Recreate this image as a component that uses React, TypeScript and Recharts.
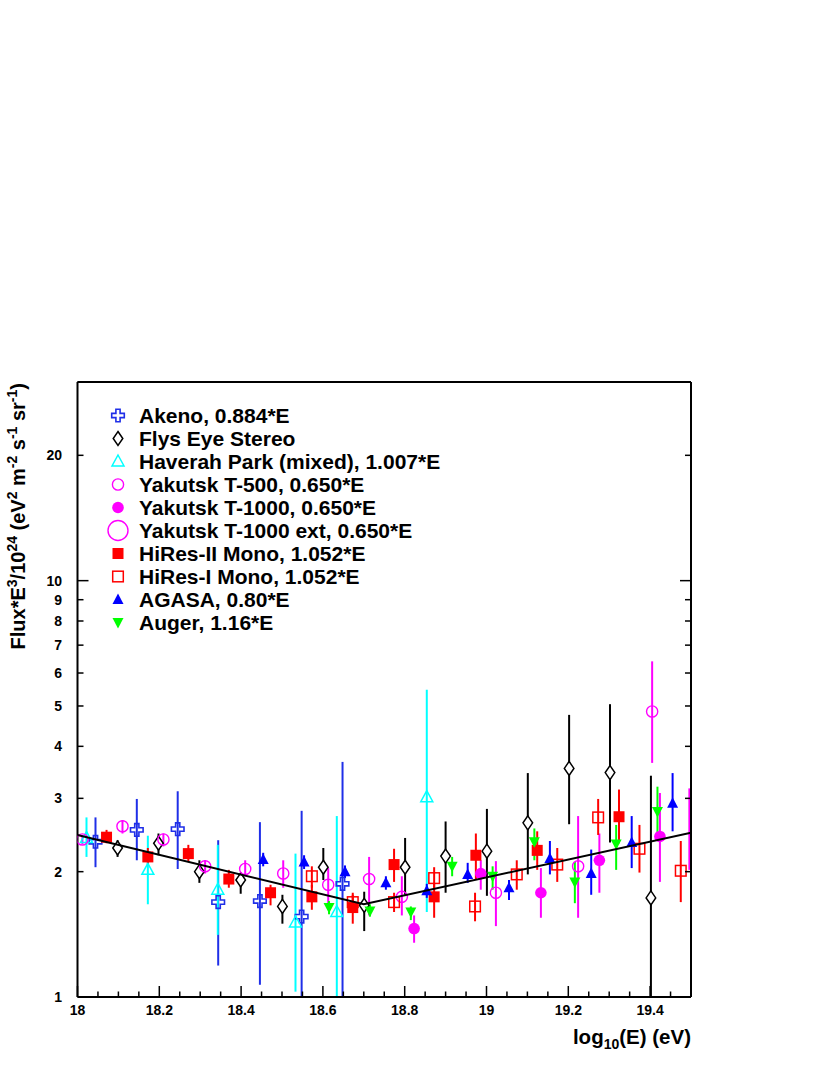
import { ComposedChart, Scatter, ErrorBar, XAxis, YAxis, Label } from 'recharts';

// [log10(E), flux, lower end of error bar, upper end of error bar]
type Pt = [number, number, number, number];

const akeno: Pt[] = [
    [18.044, 2.36, 2.05, 2.70],
    [18.145, 2.52, 2.13, 2.99],
    [18.245, 2.53, 2.03, 3.12],
    [18.344, 1.69, 1.19, 2.38],
    [18.446, 1.70, 1.07, 2.63],
    [18.548, 1.56, 1.0, 2.80],
    [18.648, 1.87, 1.0, 3.67],
];

const flysEye: Pt[] = [
    [18.098, 2.28, 2.17, 2.38],
    [18.198, 2.34, 2.19, 2.47],
    [18.298, 2.00, 1.88, 2.13],
    [18.399, 1.91, 1.77, 1.99],
    [18.501, 1.65, 1.50, 1.76],
    [18.601, 2.05, 1.91, 2.28],
    [18.701, 1.66, 1.44, 1.79],
    [18.801, 2.05, 1.76, 2.41],
    [18.900, 2.18, 1.78, 2.64],
    [19.001, 2.24, 1.75, 2.83],
    [19.101, 2.62, 1.97, 3.45],
    [19.202, 3.54, 2.60, 4.76],
    [19.302, 3.46, 2.35, 5.05],
    [19.402, 1.73, 1.0, 3.40],
];

const haverah: Pt[] = [
    [18.022, 2.41, 2.17, 2.70],
    [18.172, 2.02, 1.67, 2.44],
    [18.343, 1.81, 1.41, 2.32],
    [18.533, 1.51, 1.03, 2.21],
    [18.634, 1.60, 1.0, 2.72],
    [18.854, 3.02, 1.60, 5.47],
];

const yakutsk500: Pt[] = [
    [18.012, 2.39, 2.33, 2.45],
    [18.110, 2.57, 2.47, 2.66],
    [18.210, 2.39, 2.30, 2.47],
    [18.312, 2.06, 1.98, 2.13],
    [18.410, 2.03, 1.95, 2.13],
    [18.503, 1.98, 1.83, 2.13],
    [18.613, 1.86, 1.68, 2.04],
    [18.713, 1.92, 1.57, 2.17],
    [18.793, 1.74, 1.57, 1.95],
    [19.023, 1.78, 1.48, 2.12],
    [19.224, 2.06, 1.55, 2.72],
    [19.405, 4.85, 3.65, 6.40],
];

const yakutsk1000: Pt[] = [
    [18.823, 1.46, 1.35, 1.57],
    [18.986, 1.98, 1.81, 2.13],
    [19.133, 1.78, 1.55, 2.04],
    [19.276, 2.13, 1.78, 2.47],
    [19.424, 2.43, 1.89, 3.09],
];

// only its error bar shows at the right edge, the marker is not drawn in the picture
const yakutskExt: Pt[] = [
    [19.496, 2.53, 2.02, 3.17],
];

const hires2: Pt[] = [
    [18.071, 2.42, 2.34, 2.52],
    [18.172, 2.17, 2.08, 2.28],
    [18.271, 2.21, 2.11, 2.32],
    [18.370, 1.92, 1.83, 2.02],
    [18.472, 1.78, 1.66, 1.86],
    [18.573, 1.74, 1.62, 1.86],
    [18.673, 1.64, 1.50, 1.76],
    [18.774, 2.08, 1.89, 2.27],
    [18.872, 1.74, 1.55, 1.88],
    [18.974, 2.19, 1.91, 2.47],
    [19.124, 2.25, 2.02, 2.50],
    [19.324, 2.71, 2.34, 3.15],
];

const hires1: Pt[] = [
    [18.573, 1.95, 1.83, 2.06],
    [18.673, 1.69, 1.60, 1.78],
    [18.774, 1.69, 1.60, 1.78],
    [18.872, 1.93, 1.81, 2.05],
    [18.972, 1.65, 1.52, 1.78],
    [19.074, 1.97, 1.81, 2.13],
    [19.173, 2.08, 1.89, 2.28],
    [19.273, 2.70, 2.45, 2.99],
    [19.374, 2.27, 1.99, 2.59],
    [19.475, 2.01, 1.69, 2.37],
];

const agasa: Pt[] = [
    [18.454, 2.14, 2.06, 2.22],
    [18.554, 2.11, 2.03, 2.19],
    [18.654, 2.00, 1.93, 2.07],
    [18.754, 1.88, 1.81, 1.95],
    [18.854, 1.80, 1.73, 1.87],
    [18.954, 1.97, 1.88, 2.10],
    [19.055, 1.83, 1.71, 1.91],
    [19.155, 2.15, 1.97, 2.37],
    [19.256, 1.98, 1.76, 2.26],
    [19.355, 2.35, 2.04, 2.72],
    [19.455, 2.92, 2.50, 3.45],
];

const auger: Pt[] = [
    [18.615, 1.64, 1.58, 1.70],
    [18.715, 1.61, 1.56, 1.67],
    [18.815, 1.60, 1.53, 1.65],
    [18.916, 2.06, 1.95, 2.17],
    [19.015, 1.95, 1.81, 2.06],
    [19.117, 2.36, 2.13, 2.54],
    [19.216, 1.89, 1.68, 2.11],
    [19.317, 2.33, 2.02, 2.59],
    [19.418, 2.79, 2.45, 3.20],
];

const fitLine: [number, number][] = [[18, 2.45], [18.7, 1.67], [19.5, 2.48]];

const xTicks = [
    18, 18.05, 18.1, 18.15, 18.2, 18.25, 18.3, 18.35, 18.4, 18.45, 18.5, 18.55, 18.6, 18.65, 18.7, 18.75,
    18.8, 18.85, 18.9, 18.95, 19, 19.05, 19.1, 19.15, 19.2, 19.25, 19.3, 19.35, 19.4, 19.45, 19.5,
];
const xLabels = [18, 18.2, 18.4, 18.6, 18.8, 19, 19.2, 19.4];
const yTicks = [1, 2, 3, 4, 5, 6, 7, 8, 9, 10, 20, 30];
const yLabels = [1, 2, 3, 4, 5, 6, 7, 8, 9, 10, 20];
const yMajor = [1, 10];

const FONT = "'Liberation Sans', Arial, Helvetica, sans-serif";

type Kind = 'cross' | 'diamond' | 'triOpen' | 'circleOpen' | 'circle' | 'circleBig' | 'square' | 'squareOpen' | 'triUp' | 'triDown' | 'none';

const series: { name: string; pts: Pt[]; kind: Kind; legendKind?: Kind; color: string }[] = [
    { name: 'Akeno, 0.884*E', pts: akeno, kind: 'cross', color: '#1f2fe8' },
    { name: 'Flys Eye Stereo', pts: flysEye, kind: 'diamond', color: '#000000' },
    { name: 'Haverah Park (mixed), 1.007*E', pts: haverah, kind: 'triOpen', color: '#00ffff' },
    { name: 'Yakutsk T-500, 0.650*E', pts: yakutsk500, kind: 'circleOpen', color: '#ff00ff' },
    { name: 'Yakutsk T-1000, 0.650*E', pts: yakutsk1000, kind: 'circle', color: '#ff00ff' },
    { name: 'Yakutsk T-1000 ext, 0.650*E', pts: yakutskExt, kind: 'none', legendKind: 'circleBig', color: '#ff00ff' },
    { name: 'HiRes-II Mono, 1.052*E', pts: hires2, kind: 'square', color: '#ff0000' },
    { name: 'HiRes-I Mono, 1.052*E', pts: hires1, kind: 'squareOpen', color: '#ff0000' },
    { name: 'AGASA, 0.80*E', pts: agasa, kind: 'triUp', color: '#0000ff' },
    { name: 'Auger, 1.16*E', pts: auger, kind: 'triDown', color: '#00ff00' },
];

const toRows = (pts: Pt[]) => pts.map(([x, y, lo, hi]) => ({ x, y, err: [y - lo, hi - y] }));
const fitRows = fitLine.map(([x, y]) => ({ x, y }));

const near = (list: number[], v: number) => list.some(t => Math.abs(t - v) < 1e-6);

const Marker = ({ kind, color, cx, cy }: { kind: Kind; color: string; cx: number; cy: number }) => {
    switch (kind) {
        case 'cross': {
            const s = 6.3, a = 2.1;
            const p = [
                [-a, -s], [a, -s], [a, -a], [s, -a], [s, a], [a, a], [a, s], [-a, s], [-a, a], [-s, a], [-s, -a], [-a, -a],
            ].map(([dx, dy]) => `${cx + dx},${cy + dy}`).join(' ');
            return <polygon points={p} fill="none" stroke={color} strokeWidth={1.6} />;
        }
        case 'diamond':
            return <polygon points={`${cx},${cy - 7} ${cx + 4.8},${cy} ${cx},${cy + 7} ${cx - 4.8},${cy}`} fill="#fff" stroke={color} strokeWidth={1.5} />;
        case 'triOpen':
            return <polygon points={`${cx},${cy - 6.5} ${cx + 6},${cy + 4.5} ${cx - 6},${cy + 4.5}`} fill="none" stroke={color} strokeWidth={1.5} />;
        case 'circleOpen':
            return <circle cx={cx} cy={cy} r={5.6} fill="none" stroke={color} strokeWidth={1.4} />;
        case 'circle':
            return <circle cx={cx} cy={cy} r={5.8} fill={color} />;
        case 'circleBig':
            return <circle cx={cx} cy={cy} r={10} fill="none" stroke={color} strokeWidth={1.4} />;
        case 'square':
            return <rect x={cx - 5.5} y={cy - 5.5} width={11} height={11} fill={color} />;
        case 'squareOpen':
            return <rect x={cx - 5.3} y={cy - 5.3} width={10.6} height={10.6} fill="none" stroke={color} strokeWidth={1.5} />;
        case 'triUp':
            return <polygon points={`${cx},${cy - 6} ${cx + 5.5},${cy + 4.5} ${cx - 5.5},${cy + 4.5}`} fill={color} />;
        case 'triDown':
            return <polygon points={`${cx},${cy + 6} ${cx + 5.5},${cy - 4.5} ${cx - 5.5},${cy - 4.5}`} fill={color} />;
        default:
            return <g />;
    }
};

const tickText = { fontFamily: FONT, fontWeight: 'bold' as const, fontSize: 14, fill: '#000' };

const BottomTick = ({ x, y, payload }: any) => {
    const major = near(xLabels, payload.value);
    return (
        <g>
            <line x1={x} x2={x} y1={y} y2={y - (major ? 11 : 5.5)} stroke="#000" strokeWidth={1.5} />
            {major && <text x={x} y={y + 18} textAnchor="middle" {...tickText}>{String(payload.value)}</text>}
        </g>
    );
};

const TopTick = ({ x, y, payload }: any) => {
    const major = near(xLabels, payload.value);
    return <line x1={x} x2={x} y1={y} y2={y + (major ? 11 : 5.5)} stroke="#000" strokeWidth={1.5} />;
};

const LeftTick = ({ x, y, payload }: any) => {
    const len = near(yMajor, payload.value) ? 11 : 6;
    return (
        <g>
            <line x1={x} x2={x + len} y1={y} y2={y} stroke="#000" strokeWidth={1.5} />
            {near(yLabels, payload.value) && <text x={x - 15.5} y={y + 5} textAnchor="end" {...tickText}>{String(payload.value)}</text>}
        </g>
    );
};

const RightTick = ({ x, y, payload }: any) => {
    const len = near(yMajor, payload.value) ? 11 : 6;
    return <line x1={x} x2={x - len} y1={y} y2={y} stroke="#000" strokeWidth={1.5} />;
};

const titleText = { fontFamily: FONT, fontWeight: 'bold' as const, fill: '#000' };

const XTitle = ({ viewBox }: any) => (
    <text x={viewBox.x + viewBox.width} y={viewBox.y + 47} textAnchor="end" fontSize={20.5} {...titleText}>
        log<tspan fontSize={14} dy={5}>10</tspan><tspan dy={-5}>(E) (eV)</tspan>
    </text>
);

const YTitle = ({ viewBox }: any) => {
    const x = viewBox.x + 7.5;
    const y = viewBox.y + 1;
    return (
        <text x={x} y={y} transform={`rotate(-90, ${x}, ${y})`} textAnchor="end" fontSize={20} {...titleText}>
            Flux*E<tspan fontSize={14} dy={-8}>3</tspan>
            <tspan dy={8}>/10</tspan><tspan fontSize={14} dy={-8}>24</tspan>
            <tspan dy={8}> (eV</tspan><tspan fontSize={14} dy={-8}>2</tspan>
            <tspan dy={8}> m</tspan><tspan fontSize={14} dy={-8}>-2</tspan>
            <tspan dy={8}> s</tspan><tspan fontSize={14} dy={-8}>-1</tspan>
            <tspan dy={8}> sr</tspan><tspan fontSize={14} dy={-8}>-1</tspan>
            <tspan dy={8}>)</tspan>
        </text>
    );
};

const axisLine = { stroke: '#000', strokeWidth: 2 };

const App = () => {
    return (
        <div style={{ position: 'relative', width: 830, height: 1075, background: '#fff' }}>
            <style>{'body { margin: 0; }'}</style>
            <ComposedChart width={830} height={1075} margin={{ top: 381, right: 138, bottom: 38, left: 17.5 }}>
                <XAxis
                    dataKey="x"
                    type="number"
                    domain={[18, 19.5]}
                    ticks={xTicks}
                    interval={0}
                    allowDataOverflow
                    height={40}
                    tickSize={0}
                    tickMargin={0}
                    tickLine={false}
                    axisLine={axisLine}
                    tick={<BottomTick />}
                >
                    <Label content={<XTitle />} />
                </XAxis>
                <XAxis
                    xAxisId="top"
                    orientation="top"
                    type="number"
                    domain={[18, 19.5]}
                    ticks={xTicks}
                    interval={0}
                    allowDataOverflow
                    height={1}
                    tickSize={0}
                    tickMargin={0}
                    tickLine={false}
                    axisLine={axisLine}
                    tick={<TopTick />}
                />
                <YAxis
                    dataKey="y"
                    type="number"
                    scale="log"
                    domain={[1, 30]}
                    ticks={yTicks}
                    interval={0}
                    allowDataOverflow
                    width={60}
                    tickSize={0}
                    tickMargin={0}
                    tickLine={false}
                    axisLine={axisLine}
                    tick={<LeftTick />}
                >
                    <Label content={<YTitle />} />
                </YAxis>
                <YAxis
                    yAxisId="right"
                    orientation="right"
                    type="number"
                    scale="log"
                    domain={[1, 30]}
                    ticks={yTicks}
                    interval={0}
                    allowDataOverflow
                    width={1}
                    tickSize={0}
                    tickMargin={0}
                    tickLine={false}
                    axisLine={axisLine}
                    tick={<RightTick />}
                />
                {series.map(s => (
                    <Scatter
                        key={s.name}
                        name={s.name}
                        data={toRows(s.pts)}
                        isAnimationActive={false}
                        shape={(p: any) => <Marker kind={s.kind} color={s.color} cx={p.cx} cy={p.cy} />}
                    >
                        <ErrorBar dataKey="err" direction="y" width={0} stroke={s.color} strokeWidth={2} />
                    </Scatter>
                ))}
                <Scatter
                    data={fitRows}
                    line={{ stroke: '#000', strokeWidth: 2 }}
                    lineJointType="linear"
                    shape={() => <g />}
                    legendType="none"
                    isAnimationActive={false}
                />
            </ComposedChart>
            <div style={{ position: 'absolute', left: 106, top: 404, fontFamily: FONT, fontWeight: 'bold', fontSize: 21, color: '#000' }}>
                {series.map(s => (
                    <div key={s.name} style={{ display: 'flex', alignItems: 'center', height: 23 }}>
                        <svg width={24} height={23}>
                            <Marker kind={s.legendKind ?? s.kind} color={s.color} cx={12} cy={11.5} />
                        </svg>
                        <span style={{ marginLeft: 9, lineHeight: '23px', whiteSpace: 'nowrap' }}>{s.name}</span>
                    </div>
                ))}
            </div>
        </div>
    );
};

export default App;
